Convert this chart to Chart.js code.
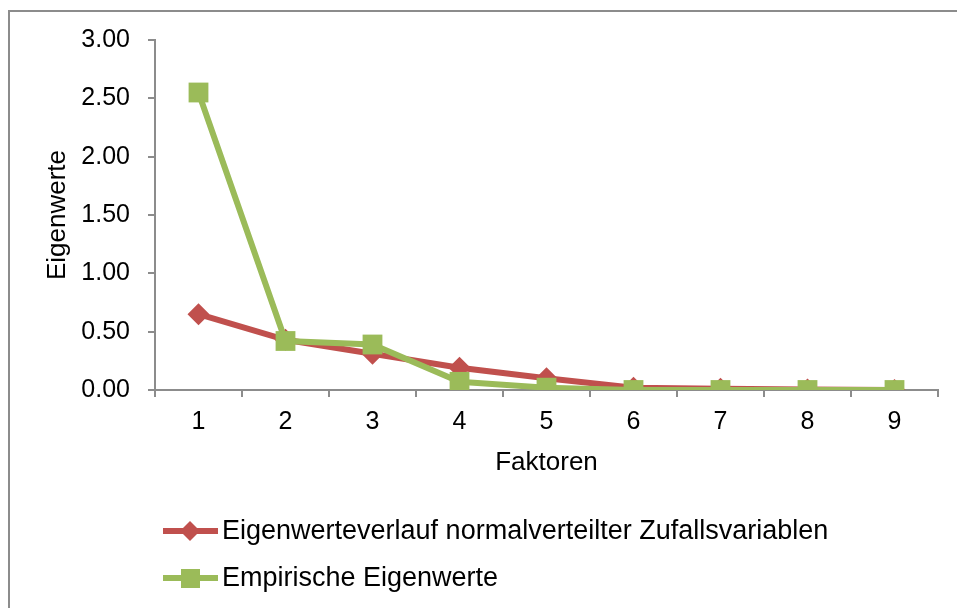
<!DOCTYPE html>
<html>
<head>
<meta charset="utf-8">
<script src="https://cdn.jsdelivr.net/npm/chart.js@4/dist/chart.umd.min.js"></script>
<style>
  html, body { margin: 0; padding: 0; background: #fff; }
  #wrap { position: relative; width: 957px; height: 608px; }
</style>
</head>
<body>
<div id="wrap"><canvas id="myChart" width="957" height="608"></canvas></div>
<script>
// Daten
const faktoren = ['1', '2', '3', '4', '5', '6', '7', '8', '9'];
const zufallsEigenwerte = [0.65, 0.43, 0.31, 0.19, 0.10, 0.02, 0.01, 0.005, 0.0];
const empirischeEigenwerte = [2.55, 0.42, 0.39, 0.07, 0.02, 0.0, 0.0, 0.0, 0.0];
const yTicks = [0, 0.5, 1, 1.5, 2, 2.5, 3];

const rot = '#c0504d';
const gruen = '#9bbb59';
const achse = '#8c8c8c';
const schrift = 'Liberation Sans, Arial, sans-serif';

// Rahmen und Legende selbst zeichnen (Legende links untereinander)
const rahmenUndLegende = {
    id: 'rahmenUndLegende',
    afterDraw(chart) {
        const ctx = chart.ctx;
        ctx.save();
        ctx.strokeStyle = achse;
        ctx.lineWidth = 2;
        ctx.beginPath();
        ctx.moveTo(9, 700);
        ctx.lineTo(9, 11);
        ctx.lineTo(1000, 11);
        ctx.stroke();

        const zeilen = [531, 578];
        chart.data.datasets.forEach((ds, i) => {
            const y = zeilen[i];
            ctx.strokeStyle = ds.borderColor;
            ctx.lineWidth = 6;
            ctx.beginPath();
            ctx.moveTo(163, y);
            ctx.lineTo(218, y);
            ctx.stroke();
            ctx.fillStyle = ds.backgroundColor;
            ctx.beginPath();
            if (ds.pointStyle === 'rectRot') {
                ctx.moveTo(190, y - 10);
                ctx.lineTo(200, y);
                ctx.lineTo(190, y + 10);
                ctx.lineTo(180, y);
            } else {
                ctx.rect(181, y - 9, 19, 19);
            }
            ctx.closePath();
            ctx.fill();
            ctx.fillStyle = '#000';
            ctx.font = '27px ' + schrift;
            ctx.textBaseline = 'middle';
            ctx.textAlign = 'left';
            ctx.fillText(ds.label, 222, y + 1);
        });
        ctx.restore();
    }
};

const ctx = document.getElementById('myChart').getContext('2d');
new Chart(ctx, {
    type: 'line',
    data: {
        labels: faktoren,
        datasets: [
            {
                label: 'Eigenwerteverlauf normalverteilter Zufallsvariablen',
                data: zufallsEigenwerte,
                borderColor: rot,
                backgroundColor: rot,
                borderWidth: 6,
                pointStyle: 'rectRot',
                pointRadius: 11,
                pointBorderWidth: 0,
                tension: 0,
                order: 1
            },
            {
                label: 'Empirische Eigenwerte',
                data: empirischeEigenwerte,
                borderColor: gruen,
                backgroundColor: gruen,
                borderWidth: 6,
                pointStyle: 'rect',
                pointRadius: 14,
                pointBorderWidth: 0,
                tension: 0,
                order: 0
            }
        ]
    },
    options: {
        responsive: false,
        animation: false,
        layout: { padding: { left: 0, top: 40, right: 19, bottom: 130 } },
        plugins: {
            legend: { display: false },
            tooltip: { enabled: false }
        },
        scales: {
            x: {
                offset: true,
                grid: {
                    offset: true,
                    drawOnChartArea: false,
                    color: achse,
                    tickLength: 7,
                    lineWidth: 2
                },
                border: { color: achse, width: 2 },
                ticks: { color: '#000', font: { family: schrift, size: 25 }, padding: 10, maxRotation: 0 },
                title: {
                    display: true,
                    text: 'Faktoren',
                    color: '#000',
                    font: { family: schrift, size: 26 },
                    padding: { top: 0, bottom: 0 }
                },
                afterFit(scale) { scale.height = 88; }
            },
            y: {
                min: 0,
                max: 3,
                afterBuildTicks(scale) { scale.ticks = yTicks.map(v => ({ value: v })); },
                grid: {
                    drawOnChartArea: false,
                    color: achse,
                    tickLength: 7,
                    lineWidth: 2
                },
                border: { color: achse, width: 2 },
                ticks: {
                    color: '#000',
                    font: { family: schrift, size: 25 },
                    padding: 18,
                    callback: v => Number(v).toFixed(2)
                },
                title: {
                    display: true,
                    text: 'Eigenwerte',
                    color: '#000',
                    font: { family: schrift, size: 26 },
                    padding: { top: 42, bottom: 0 }
                },
                afterFit(scale) { scale.width = 155; }
            }
        }
    },
    plugins: [rahmenUndLegende]
});
</script>
</body>
</html>
